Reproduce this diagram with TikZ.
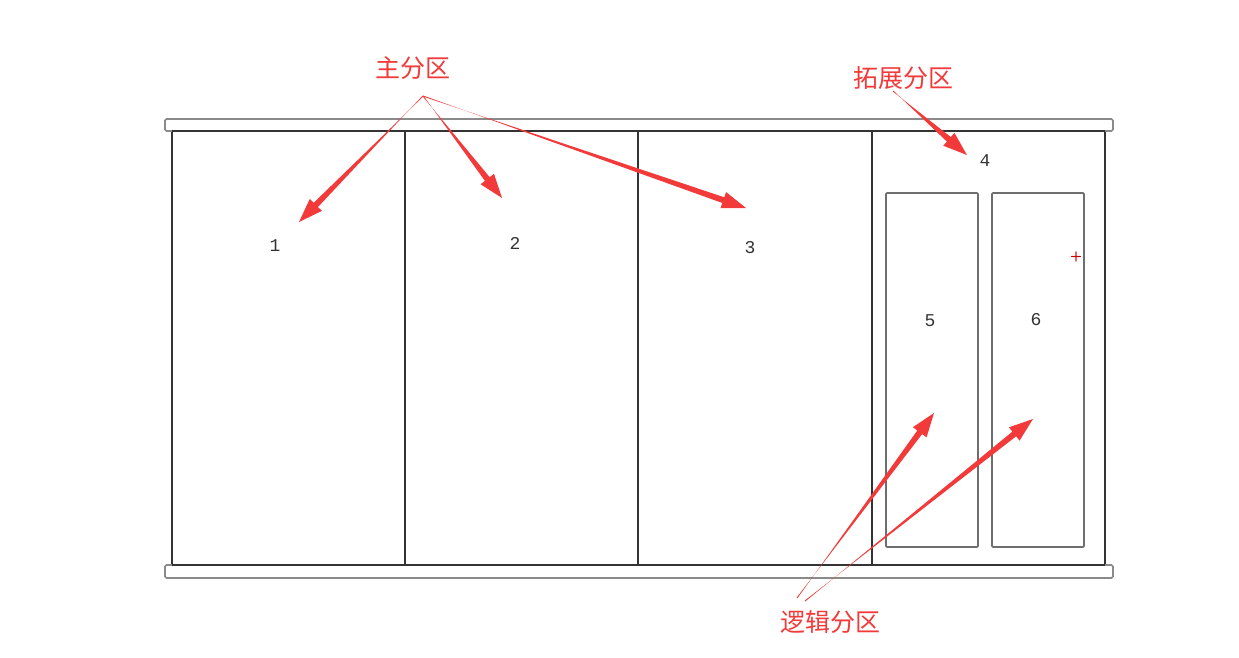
\documentclass[tikz,border=0pt]{standalone}
\usepackage{fontspec}
\newfontfamily\cjk{Noto Sans CJK SC}
\newfontfamily\numfont{Liberation Mono}
\usetikzlibrary{calc}
\definecolor{arrred}{HTML}{F23A3A}
\definecolor{frame}{HTML}{333333}
\definecolor{barline}{HTML}{8A8A8A}
\definecolor{inner}{HTML}{6E6E6E}
\tikzset{
  bar/.style={draw=barline,line width=1.6pt,fill=white,rounded corners=1.5pt},
  post/.style={draw=frame,line width=1.8pt},
  innerbox/.style={draw=inner,line width=1.6pt,rounded corners=1pt},
  num/.style={font=\numfont\fontsize{18}{18}\selectfont,text=black!80},
  cjklabel/.style={font=\cjk\fontsize{25}{25}\selectfont,text=arrred,inner sep=0pt},
}
% tapered arrow: #1 start, #2 tip
\newcommand\taparrow[2]{%
  \coordinate (H) at ($(#2)!24pt!(#1)$);
  \fill[arrred] ($(#1)!0.5pt!90:(#2)$) -- ($(H)!3pt!-90:(#2)$) -- ($(H)!8.5pt!-90:(#2)$) -- (#2)
    -- ($(H)!8.5pt!90:(#2)$) -- ($(H)!3pt!90:(#2)$) -- ($(#1)!0.5pt!-90:(#2)$) -- cycle;}
\begin{document}
\begin{tikzpicture}[x=1pt,y=-1pt]
\useasboundingbox (0,0) rectangle (1239,658);
\fill[white] (0,0) rectangle (1239,658);
% posts
\foreach \x/\n in {172/p1,405/p2,638/p3,872/p4,1105/p5}{
  \draw[post] (\x,131) -- (\x,565);
}
% bars
\draw[bar] (165,119) rectangle (1113,131);
\draw[bar] (165,565) rectangle (1113,578);
\draw[post] (172,565) -- (1105,565);
\draw[post] (172,131) -- (1105,131);
% inner boxes
\draw[innerbox] (886,193) rectangle (978,547);
\draw[innerbox] (992,193) rectangle (1084,547);
% numbers
\node[num] (n1) at (275,246) {1};
\node[num] (n2) at (515,243) {2};
\node[num] (n3) at (750,248) {3};
\node[num] (n4) at (985,161) {4};
\node[num] (n5) at (930,321) {5};
\node[num] (n6) at (1036,320) {6};
\node[text=red!80!black,font=\sffamily\bfseries\fontsize{14}{14}\selectfont,inner sep=0pt] (plus) at (1076,257) {+};
% labels
\node[cjklabel] (main) at (413,68) {主分区};
\node[cjklabel] (ext) at (903,78) {拓展分区};
\node[cjklabel] (logic) at (830,622) {逻辑分区};
% arrow endpoints
\coordinate (ms) at (423,96);
\coordinate (t1) at (299,222);
\coordinate (t2) at (502,198);
\coordinate (t3) at (746,208);
\coordinate (es) at (893,91);
\coordinate (t4) at (967,155);
\coordinate (ls1) at (797,598);
\coordinate (t5) at (934,413);
\coordinate (ls2) at (805,601);
\coordinate (t6) at (1033,419);
\taparrow{ms}{t1}
\taparrow{ms}{t2}
\taparrow{ms}{t3}
\taparrow{es}{t4}
\taparrow{ls1}{t5}
\taparrow{ls2}{t6}
\end{tikzpicture}
\end{document}
